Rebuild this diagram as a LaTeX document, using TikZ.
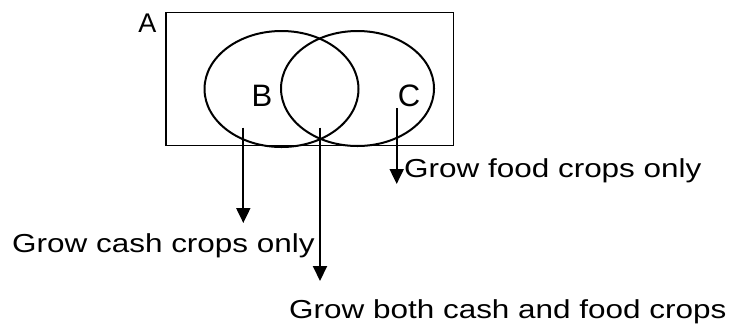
\documentclass[tikz,border=0pt]{standalone}
\usepackage{fontspec}
\setmainfont{Liberation Sans}
\newfontfamily\widesans[FakeStretch=1.21]{Liberation Sans}
\usetikzlibrary{arrows.meta}
\tikzset{
  setline/.style={line width=2pt},
  boxline/.style={line width=1.5pt},
  pointer/.style={line width=2pt, -{Triangle[width=14pt,length=15pt]}},
  setname/.style={inner sep=0pt, anchor=base, font=\fontsize{31}{31}\selectfont},
  caption/.style={inner sep=0pt, anchor=base west, font=\widesans\fontsize{26}{26}\selectfont},
}
\begin{document}
\begin{tikzpicture}[x=1pt, y=-1pt]
\useasboundingbox (0,0) rectangle (735,335);
% universal set
\draw[boxline] (166,12.7) rectangle (453.3,145.7);
\node[setname, font=\fontsize{27}{27}\selectfont] (labA) at (147.5,32) {A};
% the two overlapping sets
\draw[setline] (281.5,89) ellipse [x radius=77, y radius=58];
\draw[setline] (357.5,88.5) ellipse [x radius=76.5, y radius=57.5];
\node[setname] (labB) at (262,106) {B};
\node[setname] (labC) at (409,106) {C};
% pointer start and end points
\coordinate (cashFrom) at (243.3,127.7);
\coordinate (cashTo)   at (243.3,223);
\coordinate (bothFrom) at (320,127.7);
\coordinate (bothTo)   at (320,281);
\coordinate (foodFrom) at (396.7,108.3);
\coordinate (foodTo)   at (396.7,184);
\draw[pointer] (cashFrom) -- (cashTo);
\draw[pointer] (bothFrom) -- (bothTo);
\draw[pointer] (foodFrom) -- (foodTo);
% captions
\node[caption] (food) at (404,177.5) {Grow food crops only};
\node[caption] (cash) at (12,252.5) {Grow cash crops only};
\node[caption] (both) at (289,318.5) {Grow both cash and food crops};
\end{tikzpicture}
\end{document}
